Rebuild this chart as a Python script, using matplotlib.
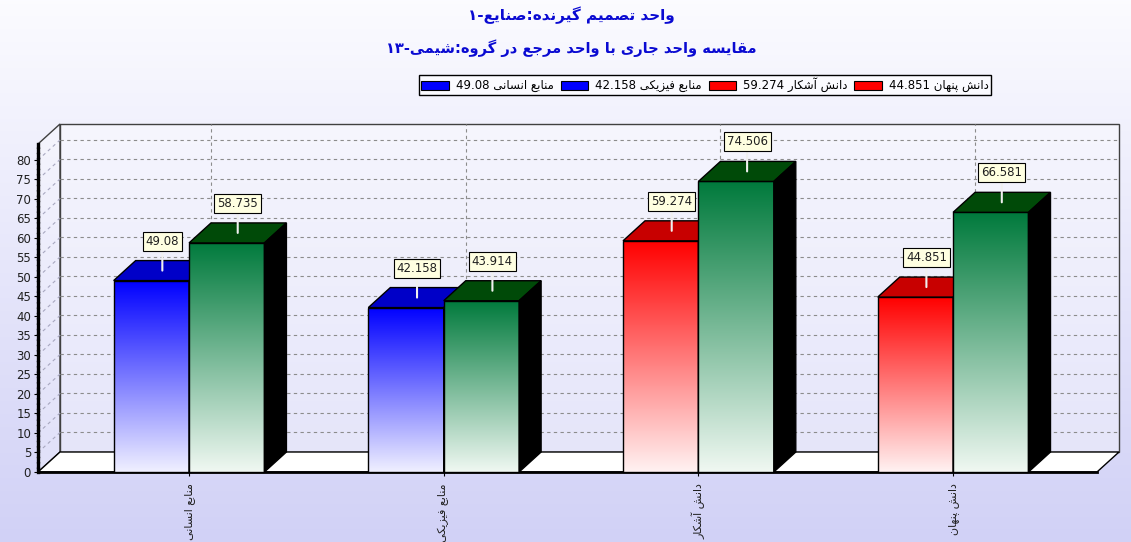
import re
import numpy as np
import matplotlib
matplotlib.use("Agg")
import matplotlib.pyplot as plt
from matplotlib.patches import Polygon, Patch

# ---------------- data ----------------
title_line1 = "واحد تصمیم گیرنده:صنایع-۱"
title_line2 = "مقایسه واحد جاری با واحد مرجع در گروه:شیمی-۱۳"
categories = ["منابع انسانی", "منابع فیزیکی", "دانش آشکار", "دانش پنهان"]
current_values = [49.08, 42.158, 59.274, 44.851]
reference_values = [58.735, 43.914, 74.506, 66.581]
y_ticks = list(range(0, 81, 5))

# ---------------- minimal Persian shaping (presentation forms, visual order) ----------------
FORMS = {
    'ا': ('\uFE8D', '\uFE8E', None, None),
    'آ': ('\uFE81', '\uFE82', None, None),
    'ب': ('\uFE8F', '\uFE90', '\uFE91', '\uFE92'),
    'پ': ('\uFB56', '\uFB57', '\uFB58', '\uFB59'),
    'ت': ('\uFE95', '\uFE96', '\uFE97', '\uFE98'),
    'ج': ('\uFE9D', '\uFE9E', '\uFE9F', '\uFEA0'),
    'ح': ('\uFEA1', '\uFEA2', '\uFEA3', '\uFEA4'),
    'د': ('\uFEA9', '\uFEAA', None, None),
    'ر': ('\uFEAD', '\uFEAE', None, None),
    'ز': ('\uFEAF', '\uFEB0', None, None),
    'س': ('\uFEB1', '\uFEB2', '\uFEB3', '\uFEB4'),
    'ش': ('\uFEB5', '\uFEB6', '\uFEB7', '\uFEB8'),
    'ص': ('\uFEB9', '\uFEBA', '\uFEBB', '\uFEBC'),
    'ع': ('\uFEC9', '\uFECA', '\uFECB', '\uFECC'),
    'ف': ('\uFED1', '\uFED2', '\uFED3', '\uFED4'),
    'ق': ('\uFED5', '\uFED6', '\uFED7', '\uFED8'),
    'ک': ('\uFB8E', '\uFB8F', '\uFB90', '\uFB91'),
    'گ': ('\uFB92', '\uFB93', '\uFB94', '\uFB95'),
    'ل': ('\uFEDD', '\uFEDE', '\uFEDF', '\uFEE0'),
    'م': ('\uFEE1', '\uFEE2', '\uFEE3', '\uFEE4'),
    'ن': ('\uFEE5', '\uFEE6', '\uFEE7', '\uFEE8'),
    'ه': ('\uFEE9', '\uFEEA', '\uFEEB', '\uFEEC'),
    'و': ('\uFEED', '\uFEEE', None, None),
    'ی': ('\uFBFC', '\uFBFD', '\uFBFE', '\uFBFF'),
}


def shape(s):
    out = []
    n = len(s)
    for i, ch in enumerate(s):
        f = FORMS.get(ch)
        if f is None:
            out.append(ch)
            continue
        prev = s[i - 1] if i > 0 else None
        nxt = s[i + 1] if i < n - 1 else None
        jp = prev in FORMS and FORMS[prev][2] is not None
        jn = f[2] is not None and nxt in FORMS
        if jp and jn:
            g = f[3]
        elif jp:
            g = f[1]
        elif jn:
            g = f[2]
        else:
            g = f[0]
        out.append(g)
    vis = ''.join(reversed(out))
    vis = re.sub(r'[0-9\u06F0-\u06F9]+', lambda m: m.group(0)[::-1], vis)
    return vis


plt.rcParams['font.family'] = ['DejaVu Sans']

# ---------------- styles ----------------
W_PX, H_PX = 1131, 542
fig = plt.figure(figsize=(W_PX / 100, H_PX / 100), dpi=100)

# background gradient
bg = fig.add_axes([0, 0, 1, 1], zorder=-10)
top_c = np.array([0.985, 0.985, 1.0])
bot_c = np.array([0.82, 0.82, 0.965])
t = np.linspace(0, 1, 256)[:, None, None]
bg.imshow(top_c * (1 - t) + bot_c * t, aspect='auto', extent=[0, 1, 0, 1])
bg.set_xlim(0, 1); bg.set_ylim(0, 1)
bg.axis('off')

# main axes (front plane)
L, R, B, T = 38, 1097, 472, 144
ax = fig.add_axes([L / W_PX, 1 - B / H_PX, (R - L) / W_PX, (B - T) / H_PX])
ax.patch.set_alpha(0)
XMIN, XMAX = -0.593, 3.565
YMAX = 84.1
DX = 22 / ((R - L) / (XMAX - XMIN))
DY = 20 / ((B - T) / YMAX)
BW = 0.296

# back wall
wall = Polygon([(XMIN + DX, DY), (XMAX + DX, DY), (XMAX + DX, YMAX + DY), (XMIN + DX, YMAX + DY)],
               closed=True, facecolor=(1, 1, 1, 0.35), edgecolor='#404040', lw=1.0,
               clip_on=False, zorder=1)
ax.add_patch(wall)
# left wall
lwall = Polygon([(XMIN, 0), (XMIN + DX, DY), (XMIN + DX, YMAX + DY), (XMIN, YMAX)],
                closed=True, facecolor=(1, 1, 1, 0.25), edgecolor='#404040', lw=1.0,
                clip_on=False, zorder=1)
ax.add_patch(lwall)

for v in y_ticks[1:]:
    ax.plot([XMIN + DX, XMAX + DX], [v + DY, v + DY], color='#8c8c8c', lw=0.8,
            ls=(0, (3, 3)), clip_on=False, zorder=2)
    ax.plot([XMIN, XMIN + DX], [v, v + DY], color='#a8a8c0', lw=0.8,
            ls=(0, (3, 3)), clip_on=False, zorder=2)
for i in range(len(categories)):
    ax.plot([i + DX, i + DX], [DY, YMAX + DY], color='#8c8c8c', lw=0.8,
            ls=(0, (3, 3)), clip_on=False, zorder=2)

# floor
floor = Polygon([(XMIN, 0), (XMAX, 0), (XMAX + DX, DY), (XMIN + DX, DY)], closed=True,
                facecolor='white', edgecolor='black', lw=1.0, clip_on=False, zorder=3)
ax.add_patch(floor)
ax.plot([XMIN, XMAX], [0, 0], color='black', lw=2.0, clip_on=False, zorder=3.1)


def hexrgb(h):
    return np.array(matplotlib.colors.to_rgb(h))


def draw_bar(x0, v, top_col, bot_col, top_face, side_face, z):
    g = np.linspace(0, 1, 256)[:, None, None]
    img = hexrgb(top_col) * (1 - g) + hexrgb(bot_col) * g
    ax.imshow(img, extent=[x0, x0 + BW, 0, v], aspect='auto', zorder=z,
              interpolation='bilinear', clip_on=False)
    ax.bar(x0, v, width=BW, align='edge', facecolor='none', edgecolor='black',
           lw=1.0, zorder=z + 0.1, clip_on=False)
    ax.add_patch(Polygon([(x0, v), (x0 + BW, v), (x0 + BW + DX, v + DY), (x0 + DX, v + DY)],
                         closed=True, facecolor=top_face, edgecolor='black', lw=1.0,
                         zorder=z + 0.2, clip_on=False))
    ax.add_patch(Polygon([(x0 + BW, 0), (x0 + BW + DX, DY), (x0 + BW + DX, v + DY), (x0 + BW, v)],
                         closed=True, facecolor=side_face, edgecolor='black', lw=1.0,
                         zorder=z + 0.2, clip_on=False))


def value_label(xc, v, z):
    ax.annotate(str(v), xy=(xc + DX / 2, v + DY / 2),
                xytext=(xc + DX / 2, v + DY / 2 + DY * 1.15),
                ha='center', va='bottom', fontsize=8.5, color='#202020',
                bbox=dict(boxstyle='square,pad=0.25', fc='#ffffe1', ec='black', lw=0.8),
                arrowprops=dict(arrowstyle='-', color='#f0f0f0', lw=1.5,
                                shrinkA=0, shrinkB=0),
                zorder=z + 0.5, annotation_clip=False)


cur_styles = [
    ('#0000ff', '#f0f0ff', '#0000c8'),
    ('#0000ff', '#f0f0ff', '#0000c8'),
    ('#ff0000', '#fff2f2', '#c80000'),
    ('#ff0000', '#fff2f2', '#c80000'),
]
ref_style = ('#007a3c', '#f0f8f2', '#004a08')

for i, (cv, rv) in enumerate(zip(current_values, reference_values)):
    z = 10 + i * 2
    tc, bc, tf = cur_styles[i]
    draw_bar(i - BW, cv, tc, bc, tf, 'black', z)
    draw_bar(i, rv, ref_style[0], ref_style[1], ref_style[2], 'black', z + 0.5)
for i, (cv, rv) in enumerate(zip(current_values, reference_values)):
    value_label(i - BW / 2, cv, 30)
    value_label(i + BW / 2, rv, 30)

ax.set_xlim(XMIN, XMAX)
ax.set_ylim(0, YMAX)
ax.set_yticks(y_ticks)
ax.set_yticklabels([str(v) for v in y_ticks], fontsize=8.5, color='#202020')
ax.set_xticks(range(len(categories)))
ax.set_xticklabels([shape(c) for c in categories], rotation=90, va='top', ha='center',
                   fontsize=8, color='#202020')
ax.tick_params(axis='y', length=3, width=0.8, pad=2)
ax.tick_params(axis='x', length=3, width=0.8, pad=5)
for s in ['top', 'right', 'bottom']:
    ax.spines[s].set_visible(False)
ax.spines['left'].set_linewidth(2.4)
ax.spines['left'].set_linestyle((0, (1.0, 0.6)))
ax.spines['left'].set_zorder(5)

# titles
fig.text(571 / W_PX, 1 - 15 / H_PX, shape(title_line1), ha='center', va='center',
         fontsize=11, fontweight='bold', color='#0a0ad2')
fig.text(571 / W_PX, 1 - 48 / H_PX, shape(title_line2), ha='center', va='center',
         fontsize=10.5, fontweight='bold', color='#0a0ad2')

# legend
legend_cols = ['#0000ff', '#0000ff', '#ff0000', '#ff0000']
handles = [Patch(facecolor=c, edgecolor='black', lw=0.8) for c in legend_cols]
labels = [f"{v} {shape(c)}" for v, c in zip(current_values, categories)]
fig.legend(handles, labels, ncol=4, loc='center', bbox_to_anchor=(705 / W_PX, 1 - 85 / H_PX),
           fontsize=8.5, frameon=True, fancybox=False, edgecolor='black', facecolor='#fbfbff',
           framealpha=1, handlelength=2.3, handleheight=0.8, handletextpad=0.6,
           columnspacing=0.6, borderpad=0.25)

fig.savefig('out.png', dpi=100)
